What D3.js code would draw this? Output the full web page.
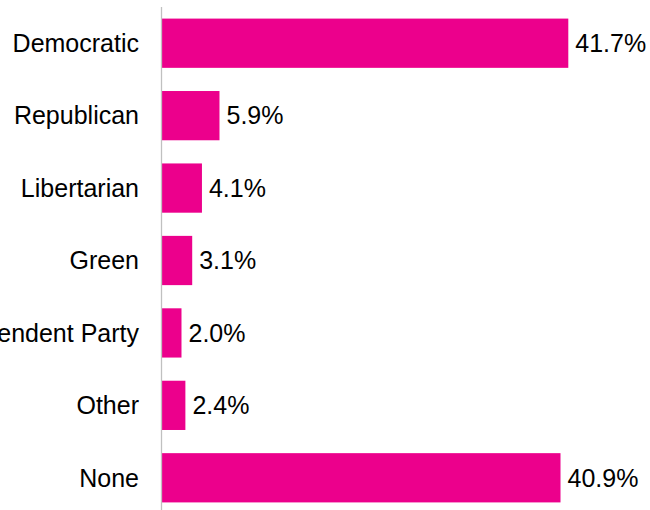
<!DOCTYPE html>
<html>
<head>
<meta charset="utf-8">
<script src="https://cdn.jsdelivr.net/npm/d3@7"></script>
<style>
html, body { margin: 0; padding: 0; background: #fff; }
svg { display: block; }
</style>
</head>
<body>
<svg id="chart" width="650" height="510"></svg>
<script>
const categories = ["Democratic", "Republican", "Libertarian", "Green", "Independent Party", "Other", "None"];
const values = [41.7, 5.9, 4.1, 3.1, 2.0, 2.4, 40.9];
const valueLabels = ["41.7%", "5.9%", "4.1%", "3.1%", "2.0%", "2.4%", "40.9%"];

const svg = d3.select("#chart");
const x0 = 162;
const x = d3.scaleLinear().domain([0, 41.7]).range([x0, 568.3]);
const y = d3.scaleBand().domain(categories).range([7, 514]).paddingInner(0.32).paddingOuter(0.16);

const font = "'Liberation Sans', Arial, sans-serif";

svg.selectAll("rect.bar")
  .data(categories)
  .join("rect")
  .attr("class", "bar")
  .attr("x", x(0))
  .attr("y", d => y(d))
  .attr("width", (d, i) => x(values[i]) - x(0))
  .attr("height", y.bandwidth())
  .attr("fill", "#EC008C");

// vertical axis line
svg.append("line")
  .attr("x1", 161.5).attr("x2", 161.5)
  .attr("y1", 7).attr("y2", 510)
  .attr("stroke", "#c0c0c0").attr("stroke-width", 1.3);

// category labels
const yAxis = d3.axisLeft(y).tickSize(0).tickPadding(23);
const gAxis = svg.append("g").attr("transform", `translate(${x0},0)`).call(yAxis);
gAxis.select(".domain").remove();
gAxis.selectAll("text")
  .attr("font-family", font)
  .attr("font-size", 25)
  .attr("fill", "#000")
  .attr("dy", "0.35em");

// value labels
svg.selectAll("text.val")
  .data(categories)
  .join("text")
  .attr("class", "val")
  .attr("x", (d, i) => x(values[i]) + 7)
  .attr("y", d => y(d) + y.bandwidth() / 2)
  .attr("dy", "0.35em")
  .attr("font-family", font)
  .attr("font-size", 25)
  .attr("fill", "#000")
  .text((d, i) => valueLabels[i]);
</script>
</body>
</html>
